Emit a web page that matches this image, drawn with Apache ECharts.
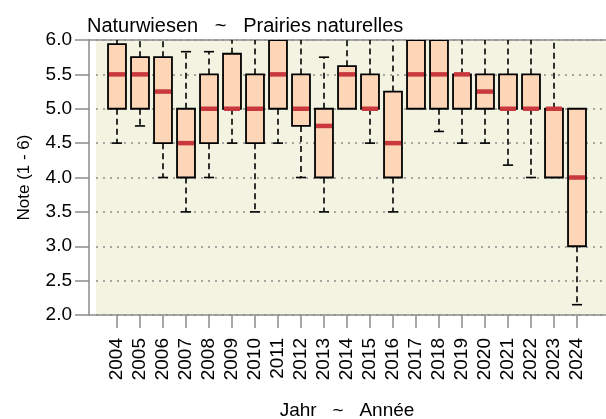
<!DOCTYPE html>
<html>
<head>
<meta charset="utf-8">
<script src="https://cdn.jsdelivr.net/npm/echarts@6/dist/echarts.min.js"></script>
<style>
html, body { margin: 0; padding: 0; background: #fff; }
#main { width: 606px; height: 419px; }
</style>
</head>
<body>
<div id="main"></div>
<script>
var years = ['2004', '2005', '2006', '2007', '2008', '2009', '2010', '2011', '2012', '2013', '2014',
    '2015', '2016', '2017', '2018', '2019', '2020', '2021', '2022', '2023', '2024'];
var whiskerLow  = [4.5, 4.75, 4.0, 3.5, 4.0, 4.5, 3.5, 4.5, 4.0, 3.5, 5.0, 4.5, 3.5, 5.0, 4.67, 4.5, 4.5, 4.18, 4.0, 4.0, 2.15];
var q1          = [5.0, 5.0, 4.5, 4.0, 4.5, 5.0, 4.5, 5.0, 4.75, 4.0, 5.0, 5.0, 4.0, 5.0, 5.0, 5.0, 5.0, 5.0, 5.0, 4.0, 3.0];
var median      = [5.5, 5.5, 5.25, 4.5, 5.0, 5.0, 5.0, 5.5, 5.0, 4.75, 5.5, 5.0, 4.5, 5.5, 5.5, 5.5, 5.25, 5.0, 5.0, 5.0, 4.0];
var q3          = [5.94, 5.75, 5.75, 5.0, 5.5, 5.8, 5.5, 6.0, 5.5, 5.0, 5.62, 5.5, 5.25, 6.0, 6.0, 5.5, 5.5, 5.5, 5.5, 5.0, 5.0];
var whiskerHigh = [6.0, 6.0, 6.0, 5.83, 5.83, 6.0, 6.0, 6.0, 6.0, 5.75, 6.0, 6.0, 6.0, 6.0, 6.0, 6.0, 6.0, 6.0, 6.0, 6.0, 5.0];

var yMin = 2, yMax = 6;
var font = 'Liberation Sans';
var axisGray = '#8c8c8c';

var boxData = [];
for (var i = 0; i < years.length; i++) {
    boxData.push([i, whiskerLow[i], q1[i], median[i], q3[i], whiskerHigh[i]]);
}

function renderBox(params, api) {
    var x = api.value(0);
    var band = api.size([1, 0])[0];
    var bw = band * 0.78;
    var cw = band * 0.44;
    var pLo = api.coord([x, api.value(1)]);
    var pQ1 = api.coord([x, api.value(2)]);
    var pMed = api.coord([x, api.value(3)]);
    var pQ3 = api.coord([x, api.value(4)]);
    var pHi = api.coord([x, api.value(5)]);
    var cx = pQ1[0];
    var dash = { stroke: '#000', lineWidth: 1.6, lineDash: [6, 4] };
    var solid = { stroke: '#000', lineWidth: 1.6 };
    var kids = [];
    if (pHi[1] < pQ3[1]) {
        kids.push({ type: 'line', shape: { x1: cx, y1: pQ3[1], x2: cx, y2: pHi[1] }, style: dash });
        if (api.value(5) < yMax) {
            kids.push({ type: 'line', shape: { x1: cx - cw / 2, y1: pHi[1], x2: cx + cw / 2, y2: pHi[1] }, style: solid });
        }
    }
    if (pLo[1] > pQ1[1]) {
        kids.push({ type: 'line', shape: { x1: cx, y1: pQ1[1], x2: cx, y2: pLo[1] }, style: dash });
        kids.push({ type: 'line', shape: { x1: cx - cw / 2, y1: pLo[1], x2: cx + cw / 2, y2: pLo[1] }, style: solid });
    }
    kids.push({
        type: 'rect',
        shape: { x: cx - bw / 2, y: pQ3[1], width: bw, height: pQ1[1] - pQ3[1] },
        style: { fill: '#fcd6b7', stroke: '#000', lineWidth: 1.8 }
    });
    kids.push({
        type: 'line',
        shape: { x1: cx - bw / 2 + 1, y1: pMed[1], x2: cx + bw / 2 - 1, y2: pMed[1] },
        style: { stroke: '#c8383c', lineWidth: 4.5 }
    });
    return { type: 'group', children: kids };
}

var myChart = echarts.init(document.getElementById('main'), null, { renderer: 'canvas' });

option = {
    animation: false,
    backgroundColor: '#fff',
    textStyle: { fontFamily: font },
    title: {
        text: 'Naturwiesen   ~   Prairies naturelles',
        left: 82,
        top: 11,
        textStyle: { fontFamily: font, fontSize: 20, fontWeight: 'normal', color: '#000' }
    },
    grid: [
        // beige plot background
        { left: 96, right: 0, top: 40, height: 275, show: true, backgroundColor: '#f3f3e1', borderWidth: 0, outerBoundsMode: 'none' },
        // frame lines (top + bottom)
        { left: 89, right: 0, top: 40, height: 275, outerBoundsMode: 'none' },
        // boxes
        { left: 105.5, width: 483, top: 40, height: 275, outerBoundsMode: 'none' }
    ],
    xAxis: [
        { gridIndex: 0, type: 'value', show: false },
        {
            gridIndex: 1, type: 'value', position: 'bottom', min: 0, max: 1,
            axisLine: { show: true, lineStyle: { color: axisGray, width: 1.5 } },
            axisTick: { show: false }, axisLabel: { show: false }, splitLine: { show: false }
        },
        {
            gridIndex: 1, type: 'value', position: 'top', min: 0, max: 1,
            axisLine: { show: true, lineStyle: { color: axisGray, width: 1.5 } },
            axisTick: { show: false }, axisLabel: { show: false }, splitLine: { show: false }
        },
        {
            gridIndex: 2, type: 'category', data: years,
            axisLine: { show: false },
            axisTick: { show: true, alignWithLabel: true, length: 13, lineStyle: { color: axisGray, width: 1.5 } },
            axisLabel: { rotate: 90, fontSize: 19, color: '#000', margin: 23, fontFamily: font, interval: 0 },
            splitLine: { show: false },
            name: 'Jahr   ~   Année',
            nameLocation: 'middle',
            nameGap: 86,
            nameTextStyle: { fontSize: 19, color: '#000', fontFamily: font }
        }
    ],
    yAxis: [
        {
            gridIndex: 0, type: 'value', min: yMin, max: yMax, interval: 0.5,
            axisLine: { show: false }, axisTick: { show: false }, axisLabel: { show: false },
            splitLine: { show: true, lineStyle: { color: '#8c8c8c', width: 1.5, type: [2, 5] } }
        },
        { gridIndex: 1, type: 'value', show: false },
        {
            gridIndex: 2, type: 'value', min: yMin, max: yMax, interval: 0.5,
            offset: 16.5,
            axisLine: { show: true, lineStyle: { color: axisGray, width: 1.5 } },
            axisTick: { show: true, length: 14, lineStyle: { color: axisGray, width: 1.5 } },
            axisLabel: {
                fontSize: 19, color: '#000', margin: 17, fontFamily: font,
                formatter: function (v) { return v.toFixed(1); }
            },
            splitLine: { show: false },
            name: 'Note (1 - 6)',
            nameLocation: 'middle',
            nameGap: 56,
            nameTextStyle: { fontSize: 17, color: '#000', fontFamily: font }
        }
    ],
    series: [{
        type: 'custom',
        xAxisIndex: 3,
        yAxisIndex: 2,
        renderItem: renderBox,
        clip: true,
        encode: { x: 0, y: [1, 2, 3, 4, 5] },
        data: boxData,
        z: 3
    }]
};

myChart.setOption(option);
</script>
</body>
</html>
